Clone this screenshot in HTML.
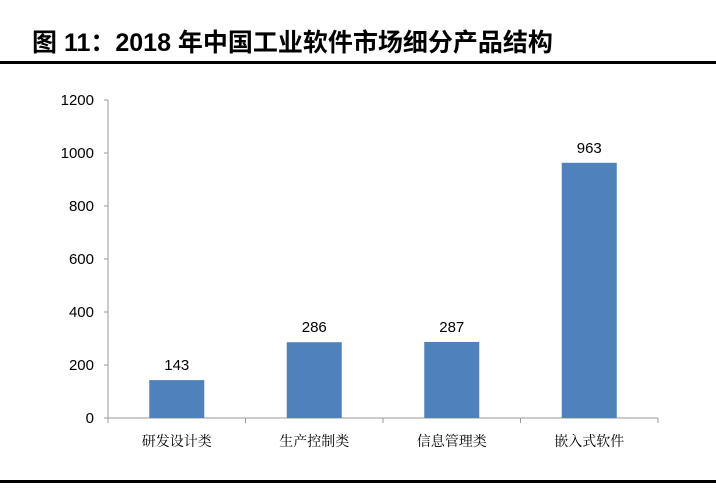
<!DOCTYPE html>
<html><head><meta charset="utf-8"><style>
body{margin:0;background:#fff;width:716px;height:486px;overflow:hidden;font-family:"Liberation Sans","Noto Sans CJK SC",sans-serif}
</style></head><body>
<svg width="716" height="486" xmlns="http://www.w3.org/2000/svg">
<text x="32" y="51" font-size="25" font-weight="bold" font-family="Liberation Sans,Noto Sans CJK SC,sans-serif">图 11：2018 年中国工业软件市场细分产品结构</text>
<rect x="0" y="61" width="716" height="3" fill="#000"/>
<rect x="0" y="480" width="716" height="3" fill="#000"/>
<g id="plot"></g>
</svg>
<script>
const categories=["研发设计类","生产控制类","信息管理类","嵌入式软件"];
const values=[143,286,287,963];
const ticks=[0,200,400,600,800,1000,1200];
const X0=108,X1=658,Y0=418,Y1=100,MAX=1200;
const y=v=>Y0-(v/MAX)*(Y0-Y1);
const bw=(X1-X0)/categories.length;
const cx=i=>X0+bw*(i+0.5);
const g=document.getElementById('plot');
const NS="http://www.w3.org/2000/svg";
function mk(t,a){const e=document.createElementNS(NS,t);for(const k in a)e.setAttribute(k,a[k]);g.appendChild(e);return e;}
let ax=mk('line',{x1:X0,y1:Y1,x2:X0,y2:Y0,stroke:'#999'});


let bx=mk('line',{x1:X0,y1:Y0,x2:X1,y2:Y0,stroke:'#999'});


ticks.forEach(t=>{
 mk('line',{x1:X0-4,y1:y(t),x2:X0,y2:y(t),stroke:'#999'});
 const l=mk('text',{x:X0-14,y:y(t)+5,'font-size':15,'text-anchor':'end',fill:'#000'});
 l.textContent=t;
 
 
});
for(let i=0;i<=categories.length;i++){mk('line',{x1:X0+bw*i,y1:Y0,x2:X0+bw*i,y2:Y0+5,stroke:'#999'});}
categories.forEach((c,i)=>{
 const b=mk('rect',{x:cx(i)-27.5,y:y(values[i]),width:55,height:Y0-y(values[i]),fill:'#4F81BD'});
 
 
 const v=mk('text',{x:cx(i),y:y(values[i])-10,'font-size':15,'text-anchor':'middle'});
 v.textContent=values[i];
 
 
 const l=mk('text',{x:cx(i),y:Y0+28,'font-size':14,'text-anchor':'middle','font-family':'Noto Serif CJK SC,serif'});
 l.textContent=c;
 
 
});
</script>
</body></html>
